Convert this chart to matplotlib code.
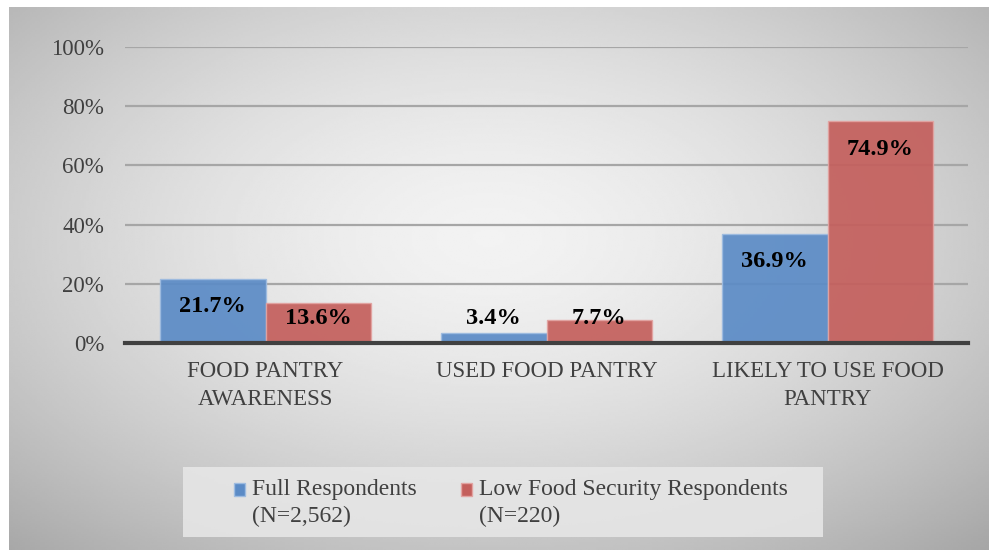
import numpy as np
import matplotlib
matplotlib.use("Agg")
import matplotlib.pyplot as plt
from matplotlib.patches import Patch, Rectangle
from matplotlib.legend_handler import HandlerPatch

# ─── DATA ────────────────────────────────────────────────────────────────────
categories = ["FOOD PANTRY\nAWARENESS", "USED FOOD PANTRY", "LIKELY TO USE FOOD\nPANTRY"]
full_resp = [0.217, 0.034, 0.369]
low_food = [0.136, 0.077, 0.749]
series_names = ["Full Respondents\n(N=2,562)", "Low Food Security Respondents\n(N=220)"]
yticks = [0.0, 0.2, 0.4, 0.6, 0.8, 1.0]

# ─── STYLE ───────────────────────────────────────────────────────────────────
BLUE, RED = "#5b8bc6", "#c45f5c"
BLUE_EDGE, RED_EDGE = "#9dbbe0", "#e2a3a1"
TXT = "#404040"
plt.rcParams["font.family"] = ["Liberation Serif", "DejaVu Serif"]

W, H = 989, 550
fig = plt.figure(figsize=(W / 100, H / 100), dpi=100, facecolor="white")

# radial gradient background
bg = fig.add_axes([9 / W, 0, (W - 9) / W, (H - 7) / H], zorder=-10)
gx, gy = np.meshgrid(np.linspace(-1, 1, 400), np.linspace(-1, 1, 250))
r = np.sqrt(((gx + 0.02) / 1.05) ** 2 + ((gy + 0.15) / 1.1) ** 2)
shade = np.clip(0.95 - 0.17 * r ** 1.6, 0, 1)
bg.imshow(shade, cmap="gray", vmin=0, vmax=1, aspect="auto", extent=[0, 1, 0, 1],
          interpolation="bilinear")
bg.set_axis_off()

# legend backdrop box
fig.patches.append(Rectangle((183 / W, 1 - 537 / H), 640 / W, 70 / H,
                             transform=fig.transFigure, facecolor="#e6e6e6",
                             edgecolor="none", alpha=0.9, zorder=-5))

# ─── PLOT ────────────────────────────────────────────────────────────────────
ax = fig.add_axes([125 / W, (H - 343) / H, 843 / W, 296 / H])
ax.patch.set_alpha(0)
x = np.arange(len(categories))
bw = 0.375
b1 = ax.bar(x - bw / 2, full_resp, bw, color=BLUE, edgecolor=BLUE_EDGE, lw=1,
            alpha=0.92, zorder=3)
b2 = ax.bar(x + bw / 2, low_food, bw, color=RED, edgecolor=RED_EDGE, lw=1,
            alpha=0.92, zorder=3)

for bars, vals in ((b1, full_resp), (b2, low_food)):
    for bar, v in zip(bars, vals):
        ypos = max(v - 0.095, 0.083)
        ax.text(bar.get_x() + bar.get_width() / 2, ypos, f"{v * 100:.1f}%",
                ha="center", va="center", fontsize=17.5, fontweight="bold",
                color="black", zorder=5)

ax.set_xlim(-0.5, 2.5)
ax.set_ylim(0, 1)
ax.set_yticks(yticks)
ax.set_yticklabels([f"{int(t * 100)}%" for t in yticks], fontsize=16.5, color=TXT)
ax.set_xticks(x)
ax.set_xticklabels(categories, fontsize=16.5, color=TXT, linespacing=1.42)
ax.tick_params(axis="y", length=0, pad=15)
ax.tick_params(axis="x", length=0, pad=13)
ax.grid(axis="y", color="#a6a6a6", lw=1.6, zorder=1)
ax.set_axisbelow(True)
for sp in ax.spines.values():
    sp.set_visible(False)
ax.axhline(0, color="#404040", lw=3, zorder=4, clip_on=False)
for lbl in ax.get_xticklabels():
    lbl.set_verticalalignment("top")


# legend square aligned with the first text line
def top_square(legend, orig_handle, xdescent, ydescent, width, height, fontsize):
    return Rectangle((-xdescent, -ydescent + 9.5), width, height)


handles = [Patch(facecolor=BLUE, edgecolor=BLUE_EDGE), Patch(facecolor=RED, edgecolor=RED_EDGE)]
leg = fig.legend(handles, series_names, loc="center", ncol=2,
                 bbox_to_anchor=(511 / W, 1 - 503 / H), fontsize=17, frameon=False,
                 handlelength=0.45, handleheight=0.45,
                 handletextpad=0.3, columnspacing=1.9, borderpad=0.25,
                 borderaxespad=0,
                 handler_map={Patch: HandlerPatch(patch_func=top_square)})
for t in leg.get_texts():
    t.set_color(TXT)
    t.set_linespacing(1.33)

fig.savefig("out.png", dpi=100, facecolor="white")
